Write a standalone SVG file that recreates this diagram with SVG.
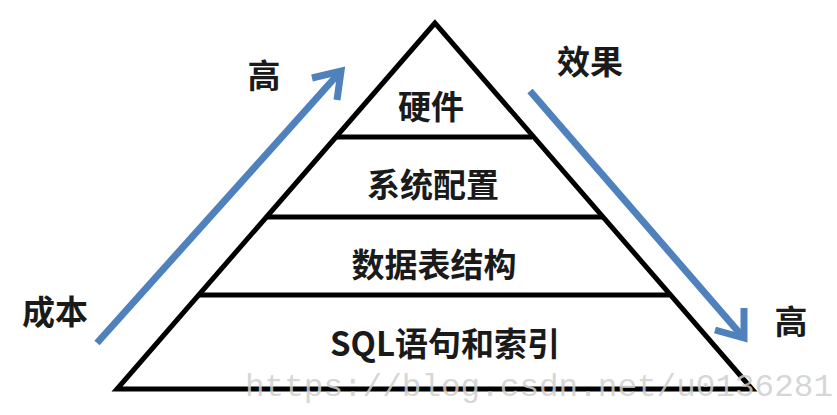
<svg xmlns="http://www.w3.org/2000/svg" width="837" height="415" viewBox="0 0 837 415">
  <style>
    .edge { fill: none; stroke: #000; stroke-width: 5; stroke-linejoin: miter; }
    .tier { stroke: #000; stroke-width: 5; }
    .flow { fill: none; stroke: #4F81BD; stroke-width: 7; stroke-linecap: butt; stroke-linejoin: miter; }
    .label { font-family: "Noto Sans CJK SC", "Noto Sans", sans-serif; font-weight: bold; font-size: 33px; fill: #1a1a1a; text-anchor: middle; }
    .mark { font-family: "Liberation Mono", "DejaVu Sans Mono", monospace; font-size: 31px; fill: #cfcfcf; fill-opacity: 0.85; }
  </style>
  <rect width="837" height="415" fill="#fff"/>

  <!-- pyramid outline and tier dividers -->
  <g id="pyramid">
    <polygon class="edge" points="435,23 117,389 752,389"/>
    <line class="tier" x1="336" y1="137" x2="532" y2="137"/>
    <line class="tier" x1="266" y1="217" x2="604" y2="217"/>
    <line class="tier" x1="198" y1="295" x2="669" y2="295"/>
  </g>

  <!-- tiers -->
  <g id="tier-hardware"><text class="label" x="431" y="119">硬件</text></g>
  <g id="tier-config"><text class="label" x="433" y="197">系统配置</text></g>
  <g id="tier-schema"><text class="label" x="434" y="277">数据表结构</text></g>
  <g id="tier-sql"><text class="label" x="445" y="356">SQL语句和索引</text></g>

  <!-- axis labels -->
  <g id="cost-low"><text class="label" x="55" y="324">成本</text></g>
  <g id="cost-high"><text class="label" x="264" y="88">高</text></g>
  <g id="effect-low"><text class="label" x="590" y="74">效果</text></g>
  <g id="effect-high"><text class="label" x="791" y="334">高</text></g>

  <!-- trend arrows -->
  <g id="connectors">
    <line class="flow" x1="97" y1="343" x2="340" y2="72"/>
    <polyline class="flow" points="312,78 341,71 337,100"/>
    <line class="flow" x1="530" y1="91" x2="743" y2="337"/>
    <polyline class="flow" points="715,330 744,338 744,308"/>
  </g>

  <text class="mark" x="245" y="396" textLength="588" lengthAdjust="spacingAndGlyphs">https://blog.csdn.net/u0136281</text>
</svg>
